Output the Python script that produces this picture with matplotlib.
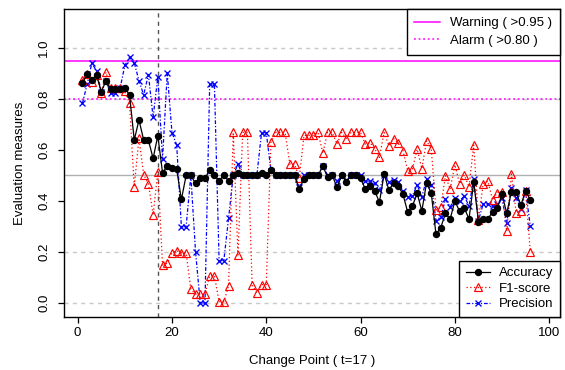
import matplotlib
matplotlib.use("Agg")
import matplotlib.pyplot as plt
from matplotlib.lines import Line2D

plt.rcParams['font.family'] = ['Liberation Sans', 'DejaVu Sans']

change_point = 17
warning_level = 0.95
alarm_level = 0.80
x_ticks = [0, 20, 40, 60, 80, 100]
y_ticks = [0.0, 0.2, 0.4, 0.6, 0.8, 1.0]
grid_dashed = [0.0, 0.2, 0.8, 1.0]
grid_solid = 0.5

accuracy = [0.862, 0.897, 0.875, 0.894, 0.829, 0.870, 0.839, 0.839, 0.839, 0.842,
            0.816, 0.639, 0.718, 0.639, 0.639, 0.567, 0.656, 0.511, 0.537, 0.529,
            0.524, 0.406, 0.500, 0.500, 0.469, 0.489, 0.489, 0.522, 0.500, 0.480,
            0.500, 0.480, 0.500, 0.508, 0.500, 0.500, 0.500, 0.500, 0.511, 0.500,
            0.522, 0.500, 0.500, 0.500, 0.500, 0.500, 0.446, 0.487, 0.500, 0.500,
            0.500, 0.538, 0.493, 0.500, 0.454, 0.500, 0.476, 0.500, 0.500, 0.489,
            0.447, 0.459, 0.440, 0.395, 0.506, 0.443, 0.470, 0.459, 0.426, 0.356,
            0.380, 0.430, 0.361, 0.472, 0.430, 0.269, 0.295, 0.351, 0.329, 0.400,
            0.360, 0.373, 0.329, 0.475, 0.319, 0.329, 0.329, 0.358, 0.371, 0.427,
            0.352, 0.437, 0.434, 0.384, 0.440, 0.404]

f1_score = [0.875, 0.900, 0.868, 0.894, 0.824, 0.905, 0.845, 0.845, 0.845, 0.830,
            0.783, 0.455, 0.646, 0.503, 0.468, 0.345, 0.515, 0.149, 0.156, 0.197,
            0.205, 0.197, 0.197, 0.054, 0.035, 0.035, 0.035, 0.107, 0.107, 0.005,
            0.005, 0.067, 0.669, 0.188, 0.669, 0.669, 0.070, 0.040, 0.072, 0.072,
            0.633, 0.669, 0.669, 0.669, 0.545, 0.545, 0.490, 0.657, 0.657, 0.657,
            0.669, 0.587, 0.669, 0.669, 0.623, 0.669, 0.645, 0.669, 0.669, 0.669,
            0.623, 0.629, 0.605, 0.571, 0.669, 0.617, 0.645, 0.626, 0.598, 0.518,
            0.526, 0.603, 0.527, 0.636, 0.604, 0.365, 0.375, 0.499, 0.446, 0.542,
            0.468, 0.502, 0.455, 0.620, 0.325, 0.468, 0.478, 0.404, 0.433, 0.437,
            0.281, 0.506, 0.354, 0.361, 0.440, 0.201]

precision = [0.783, 0.857, 0.940, 0.911, 0.829, 0.872, 0.822, 0.822, 0.842, 0.932,
             0.963, 0.942, 0.872, 0.816, 0.896, 0.728, 0.887, 0.565, 0.903, 0.668,
             0.620, 0.299, 0.299, 0.500, 0.201, 0.000, 0.000, 0.858, 0.858, 0.166,
             0.166, 0.332, 0.500, 0.545, 0.500, 0.500, 0.500, 0.500, 0.668, 0.668,
             0.519, 0.500, 0.500, 0.500, 0.500, 0.500, 0.454, 0.500, 0.500, 0.500,
             0.500, 0.537, 0.500, 0.500, 0.478, 0.497, 0.482, 0.500, 0.500, 0.500,
             0.478, 0.478, 0.469, 0.443, 0.500, 0.476, 0.483, 0.476, 0.440, 0.417,
             0.420, 0.463, 0.417, 0.485, 0.463, 0.323, 0.338, 0.406, 0.377, 0.410,
             0.400, 0.420, 0.380, 0.485, 0.323, 0.388, 0.388, 0.380, 0.390, 0.410,
             0.313, 0.452, 0.410, 0.370, 0.442, 0.302]

points = list(range(1, len(accuracy) + 1))

fig = plt.figure(figsize=(5.65, 3.7), dpi=100)
ax = fig.add_axes([64 / 565, 1 - 317 / 370, (560 - 64) / 565, (317 - 9) / 370])

# reference lines
for g in grid_dashed:
    ax.axhline(g, color='#c8c8c8', lw=1, dashes=(3, 3), zorder=1)
ax.axhline(grid_solid, color='#b0b0b0', lw=1, zorder=1)
ax.axhline(warning_level, color='#ff00ff', lw=1.1, zorder=2)
ax.axhline(alarm_level, color='#ff00ff', lw=1.1, dashes=(1.2, 1.8), zorder=2)
ax.axvline(change_point, color='#555555', lw=1, dashes=(3, 3), zorder=2)

acc_style = dict(color='black', lw=0.9, marker='o', ms=4.3)
f1_style = dict(color='red', lw=0.9, dashes=(1, 2), marker='^', ms=6.3,
                mfc='none', mec='red', mew=0.85)
prec_style = dict(color='blue', lw=0.9, dashes=(3, 1.5, 1, 1.5), marker='x',
                  ms=4.8, mew=0.95)

ax.plot(points, accuracy, zorder=5, **acc_style)
ax.plot(points, f1_score, zorder=4, **f1_style)
ax.plot(points, precision, zorder=3, **prec_style)

ax.set_xlim(-2.9, 102.3)
ax.set_ylim(-0.055, 1.153)
ax.set_xticks(x_ticks)
ax.set_yticks(y_ticks)
ax.set_yticklabels(['%.1f' % v for v in y_ticks], rotation=90, va='center')
ax.tick_params(axis='x', length=4, width=0.9, pad=3.5, labelsize=9.5)
ax.tick_params(axis='y', length=4, width=0.9, pad=6, labelsize=9.5)
for s in ax.spines.values():
    s.set_linewidth(1)
ax.set_xlabel('Change Point ( t=%d )' % change_point, fontsize=9.5, labelpad=11)
ax.set_ylabel('Evaluation measures', fontsize=9.5, labelpad=9)

h_top = [Line2D([], [], color='#ff00ff', lw=1.1),
         Line2D([], [], color='#ff00ff', lw=1.1, dashes=(1.2, 1.8))]
leg1 = ax.legend(h_top, ['Warning ( >0.95 )', 'Alarm ( >0.80 )'],
                 loc='upper right', borderaxespad=0, fancybox=False,
                 edgecolor='black', framealpha=1, fontsize=9.5,
                 handlelength=1.9, handletextpad=0.8, labelspacing=0.4,
                 borderpad=0.6)
leg1.get_frame().set_linewidth(1)
ax.add_artist(leg1)

h_bot = [Line2D([], [], **acc_style),
         Line2D([], [], **f1_style),
         Line2D([], [], **prec_style)]
leg2 = ax.legend(h_bot, ['Accuracy', 'F1-score', 'Precision'],
                 loc='lower right', borderaxespad=0, fancybox=False,
                 edgecolor='black', framealpha=1, fontsize=9.5,
                 handlelength=1.8, handletextpad=0.7, labelspacing=0.25,
                 borderpad=0.5)
leg2.get_frame().set_linewidth(1)

fig.savefig('out.png', dpi=100)
